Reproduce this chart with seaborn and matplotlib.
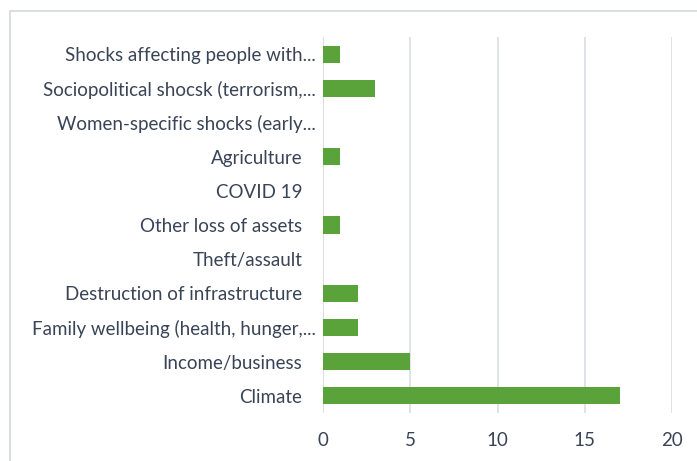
import matplotlib
matplotlib.use("Agg")
import matplotlib.pyplot as plt
import matplotlib.patches as mpatches
import matplotlib.transforms as mtransforms
import seaborn as sns
import pandas as pd

categories = [
    "Shocks affecting people with...",
    "Sociopolitical shocsk (terrorism,...",
    "Women-specific shocks (early...",
    "Agriculture",
    "COVID 19",
    "Other loss of assets",
    "Theft/assault",
    "Destruction of infrastructure",
    "Family wellbeing (health, hunger,...",
    "Income/business",
    "Climate",
]
counts = [1, 3, 0, 1, 0, 1, 0, 2, 2, 5, 17]
x_ticks = [0, 5, 10, 15, 20]

df = pd.DataFrame({"category": categories, "count": counts})

sns.set_theme(style="white")
plt.rcParams["font.family"] = ["Lato", "DejaVu Sans"]

text_color = "#3a4457"
grid_color = "#d9dde4"

fig = plt.figure(figsize=(6.97, 4.61), dpi=100)
ax = fig.add_axes([323 / 697, 1 - 413 / 461, (672 - 323) / 697, (413 - 37) / 461])

sns.barplot(data=df, y="category", x="count", orient="h", color="#5aa23a",
            width=0.5, linewidth=0, saturation=1, ax=ax)

ax.set_xlim(0, 20)
ax.set_ylim(len(categories) - 0.5, -0.5)
ax.set_xticks(x_ticks)
ax.set_xticklabels([str(t) for t in x_ticks])
ax.set_xlabel("")
ax.set_ylabel("")
ax.xaxis.grid(True, color=grid_color, linewidth=1.2)
ax.set_axisbelow(True)
for s in ax.spines.values():
    s.set_visible(False)
ax.axvline(0, color=grid_color, linewidth=1.2, zorder=0)
ax.tick_params(axis="both", length=0, colors=text_color, labelsize=13.5)
ax.tick_params(axis="x", pad=14)
ax.tick_params(axis="y", pad=15)

# truncated labels overflow their slot slightly to the right
shift = mtransforms.ScaledTranslation(14 / 100, 0, fig.dpi_scale_trans)
for lbl in ax.get_yticklabels():
    if lbl.get_text().endswith("..."):
        lbl.set_transform(lbl.get_transform() + shift)

# outer chart frame
frame = mpatches.Rectangle((10 / 697, -0.05), 1.0, 1 - 11 / 461 + 0.05,
                           transform=fig.transFigure, fill=False,
                           edgecolor="#d3d7dd", linewidth=1.2)
fig.patches.append(frame)

fig.savefig("out.png", dpi=100, facecolor="white")
